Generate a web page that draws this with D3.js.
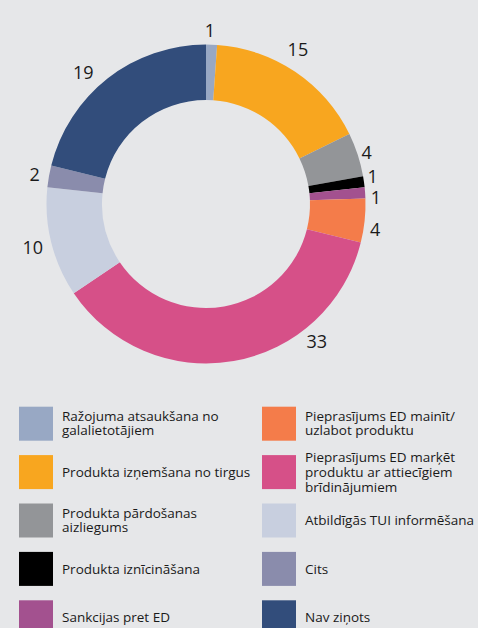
<!DOCTYPE html>
<html>
<head>
<meta charset="utf-8">
<script src="https://cdn.jsdelivr.net/npm/d3@7"></script>
<style>
  html, body { margin: 0; padding: 0; background: #e6e7e9; }
  svg { display: block; }
  text { font-family: "Open Sans", "Liberation Sans", sans-serif; fill: #1a1a1a; }
</style>
</head>
<body>
<svg id="chart" width="478" height="628"></svg>
<script>
// ---- data ----
const categories = [
  "Ražojuma atsaukšana no galalietotājiem",
  "Produkta izņemšana no tirgus",
  "Produkta pārdošanas aizliegums",
  "Produkta iznīcināšana",
  "Sankcijas pret ED",
  "Pieprasījums ED mainīt/ uzlabot produktu",
  "Pieprasījums ED marķēt produktu ar attiecīgiem brīdinājumiem",
  "Atbildīgās TUI informēšana",
  "Cits",
  "Nav ziņots"
];
const values = [1, 15, 4, 1, 1, 4, 33, 10, 2, 19];
const colors = ["#98a8c4", "#f8a61f", "#939598", "#000000", "#a3518f",
                "#f47c4a", "#d65088", "#c8cfdf", "#8a8cac", "#324d7b"];
// legend line breaks (as in the reference)
const legendLines = [
  ["Ražojuma atsaukšana no", "galalietotājiem"],
  ["Produkta izņemšana no tirgus"],
  ["Produkta pārdošanas", "aizliegums"],
  ["Produkta iznīcināšana"],
  ["Sankcijas pret ED"],
  ["Pieprasījums ED mainīt/", "uzlabot produktu"],
  ["Pieprasījums ED marķēt", "produktu ar attiecīgiem", "brīdinājumiem"],
  ["Atbildīgās TUI informēšana"],
  ["Cits"],
  ["Nav ziņots"]
];
// value-label placement tweaks: angular nudge (deg) and radius (px)
const labelNudgeDeg = [-0.7, -3.3, 0, -1.5, 1.6, 2.4, -29, 0, 0, -5];
const labelRadius   = [174, 180, 169, 169, 170, 171, 176, 178.5, 174, 180];

const svg = d3.select("#chart");
const cx = 206, cy = 204, rOuter = 159.5, rInner = 104;

const pie = d3.pie().sort(null).value(d => d).startAngle(0).endAngle(2 * Math.PI);
const arcs = pie(values);
const arc = d3.arc().innerRadius(rInner).outerRadius(rOuter);

const g = svg.append("g").attr("transform", `translate(${cx},${cy})`);
g.selectAll("path.slice").data(arcs).join("path")
  .attr("class", "slice")
  .attr("d", arc)
  .attr("fill", (d, i) => colors[i]);

const labAngle = (d, i) => (d.startAngle + d.endAngle) / 2 + labelNudgeDeg[i] * Math.PI / 180;
g.selectAll("text.val").data(arcs).join("text")
  .attr("class", "val")
  .attr("text-anchor", "middle")
  .attr("dominant-baseline", "central")
  .attr("font-size", 18)
  .attr("x", (d, i) => labelRadius[i] * Math.sin(labAngle(d, i)))
  .attr("y", (d, i) => -labelRadius[i] * Math.cos(labAngle(d, i)))
  .text(d => d.value);

// ---- legend ----
const colX = [19, 262];
const textOff = 43;
const rowY0 = 406.7, rowStep = 48.4, sw = 34;
const legend = svg.append("g");
categories.forEach((c, i) => {
  const col = i < 5 ? 0 : 1;
  const row = i % 5;
  const y = rowY0 + row * rowStep;
  const x = colX[col];
  legend.append("rect")
    .attr("x", x).attr("y", y).attr("width", sw).attr("height", sw)
    .attr("fill", colors[i]);
  const lines = legendLines[i];
  const lh = lines.length === 3 ? 15 : 14;
  const t = legend.append("text")
    .attr("x", x + textOff)
    .attr("font-size", 13.5);
  lines.forEach((ln, k) => {
    t.append("tspan")
      .attr("x", x + textOff)
      .attr("y", y + sw / 2 + (k - (lines.length - 1) / 2) * lh)
      .attr("dy", "0.35em")
      .text(ln);
  });
});
</script>
</body>
</html>
